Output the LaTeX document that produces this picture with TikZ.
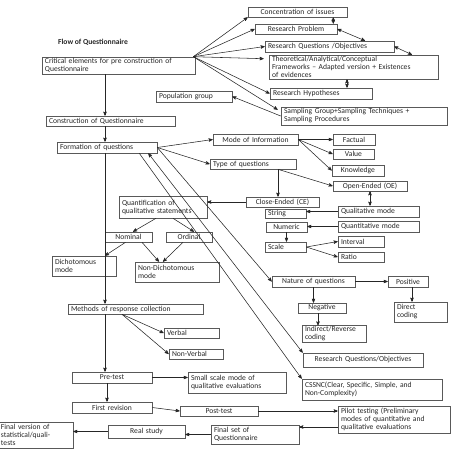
\documentclass[tikz,border=0pt]{standalone}
\usepackage{fontspec}
\setmainfont{Carlito}
\usetikzlibrary{arrows}

\tikzset{
  box/.style={draw=black!65,line width=0.6pt,inner xsep=3pt,inner ysep=1pt,
              align=left,text=black!85,font=\fontsize{7.6}{8}\selectfont},
  mid/.style={box,align=center},
  link/.style={->,draw=black!85,line width=0.55pt},
  both/.style={<->,draw=black!85,line width=0.55pt}
}

\begin{document}
\begin{tikzpicture}[x=1pt,y=-1pt,>=stealth']
  \useasboundingbox (0,0) rectangle (453,453);
  \coordinate (spine) at (105,0);

  \node[font=\fontsize{7.6}{8}\selectfont\bfseries,text=black!85] (title) at (93,42) {Flow of Questionnaire};

  % pre construction
  \node[box,text width=147pt,minimum height=17pt] (crit)   at (118.5,65.5) {Critical elements for pre construction of\\Questionnaire};
  \node[mid,text width=93pt,minimum height=10pt]  (conc)   at (297.5,12)   {Concentration  of  issues};
  \node[mid,text width=76pt,minimum height=10pt]  (rprob)  at (296,29)     {Research  Problem};
  \node[box,text width=123pt,minimum height=11pt] (rqo)    at (329.5,46.5) {Research  Questions /Objectives};
  \node[box,text width=163pt,minimum height=24pt] (theo)   at (353.5,67)   {Theoretical/Analytical/Conceptual\\Frameworks -- Adapted version + Existences\\of evidences};
  \node[box,text width=96pt,minimum height=11pt]  (hyp)    at (321,93.5)   {Research  Hypotheses};
  \node[box,text width=70pt,minimum height=11pt]  (pop)    at (194,96.5)   {Population  group};
  \node[box,text width=160pt,minimum height=18pt] (samp)   at (364,116)    {Sampling Group+Sampling Techniques +\\Sampling  Procedures};
  \node[box,text width=123pt,minimum height=10pt] (constr) at (110.5,121)   {Construction  of Questionnaire};

  % formation of questions
  \node[box,text width=94pt,minimum height=11pt]  (form)   at (107,147.5)  {Formation  of questions};
  \node[mid,text width=79pt,minimum height=11pt]  (mode)   at (255.5,139.5) {Mode of Information};
  \node[mid,text width=36pt,minimum height=11pt]  (fact)   at (354,139.5)  {Factual};
  \node[mid,text width=35pt,minimum height=10pt]  (val)    at (353.5,154)  {Value};
  \node[mid,text width=46pt,minimum height=11pt]  (know)   at (358,170.5)  {Knowledge};
  \node[box,text width=80pt,minimum height=10pt]  (typ)    at (253,164)    {Type of questions};
  \node[mid,text width=68pt,minimum height=10pt]  (oe)     at (370,186)    {Open-Ended (OE)};
  \node[mid,text width=67pt,minimum height=10pt]  (ce)     at (282.5,202)  {Close-Ended (CE)};
  \node[box,text width=82pt,minimum height=22pt]  (quant)  at (163,207)    {Quantification of\\qualitative statements};
  \node[box,text width=35pt,minimum height=9pt]   (str)    at (285.5,213.5) {String};
  \node[box,text width=75pt,minimum height=11pt]  (qual)   at (378.5,211.5) {Qualitative mode};
  \node[mid,text width=35pt,minimum height=10pt]  (num)    at (286.5,227)  {Numeric};
  \node[box,text width=75pt,minimum height=11pt]  (quan)   at (378.5,226.5) {Quantitative mode};
  \node[box,text width=35pt,minimum height=10pt]  (scale)  at (285.5,247)  {Scale};
  \node[box,text width=40pt,minimum height=11pt]  (intv)   at (361,241.5)  {Interval};
  \node[box,text width=40pt,minimum height=10pt]  (ratio)  at (361,257)    {Ratio};
  \node[mid,text width=41pt,minimum height=10pt]  (nom)    at (128.5,237)  {Nominal};
  \node[mid,text width=40pt,minimum height=10pt]  (ord)    at (189,237)    {Ordinal};
  \node[box,text width=58pt,minimum height=20pt]  (dich)   at (84,266)     {Dichotomous\\mode};
  \node[box,text width=78pt,minimum height=20pt]  (ndich)  at (177,272)    {Non-Dichotomous\\mode};
  \node[mid,text width=77pt,minimum height=11pt]  (nat)    at (313.5,281.5) {Nature of questions};
  \node[mid,text width=34pt,minimum height=11pt]  (pos)    at (408,281.5)  {Positive};
  \node[mid,text width=42pt,minimum height=10pt]  (neg)    at (322,308)    {Negative};
  \node[box,text width=47pt,minimum height=20pt]  (dcod)   at (420.5,312)  {Direct\\coding};
  \node[box,text width=58pt,minimum height=16pt]  (icod)   at (334,334)    {Indirect/Reverse\\coding};
  \node[mid,text width=114pt,minimum height=14pt] (rqo2)   at (363,360)    {Research Questions/Objectives};
  \node[box,text width=134pt,minimum height=21pt] (cssnc)  at (372,389.5)  {CSSNC(Clear, Specific, Simple, and\\Non-Complexity)};

  % response collection and testing
  \node[box,text width=129pt,minimum height=10pt] (meth)   at (135.5,309)  {Methods  of response collection};
  \node[box,text width=49pt,minimum height=10pt]  (verb)   at (191.5,333)  {Verbal};
  \node[box,text width=48pt,minimum height=10pt]  (nverb)  at (196,354)    {Non-Verbal};
  \node[mid,text width=74pt,minimum height=11pt]  (pre)    at (112,377.5)  {Pre-test};
  \node[box,text width=92pt,minimum height=21pt]  (small)  at (237,382.5)  {Small scale mode of\\qualitative evaluations};
  \node[mid,text width=74pt,minimum height=11pt]  (frev)   at (112,407.5)  {First revision};
  \node[mid,text width=72pt,minimum height=10pt]  (post)   at (219,411)    {Post-test};
  \node[box,text width=106pt,minimum height=27pt] (pilot)  at (394,419.5)  {Pilot testing (Preliminary\\modes of quantitative and\\qualitative evaluations};
  \node[box,text width=82pt,minimum height=19pt]  (fset)   at (255,434.5)  {Final set of\\Questionnaire};
  \node[mid,text width=71pt,minimum height=13pt]  (real)   at (146.5,431.5) {Real study};
  \node[box,text width=69pt,minimum height=26pt]  (fver)   at (35.5,435)   {Final version of\\statistical/quali-\\tests};

  % main spine
  \draw[link] (crit.south -| spine)   -- (constr.north -| spine);
  \draw[link] (constr.south -| spine) -- (form.north -| spine);
  \draw[link] (form.south -| spine)   -- (meth.north -| spine);
  \draw[link] (meth.south -| spine)   -- (pre.north -| spine);
  \draw[link] ([xshift=-5pt]pre.south) -- ([xshift=-5pt]frev.north);

  % fan from critical elements
  \draw[link] ([xshift=-2pt]crit.north east) -- (conc.south west);
  \draw[link] ([xshift=-2pt]crit.north east) -- (rprob.west);
  \draw[link] ([xshift=-2pt]crit.north east) -- (rqo.west);
  \draw[link] ([xshift=-2pt]crit.north east) -- ([xshift=-5pt,yshift=-4pt]theo.north west);
  \draw[link] ([xshift=-2pt]crit.north east) -- (hyp.west);
  \draw[link] ([xshift=-2pt]crit.north east) -- ([xshift=-3pt,yshift=-3pt]samp.north west);
  \draw[both] ([xshift=-14pt]conc.south east) -- ([xshift=-14pt]conc.south east |- rprob.north);
  \draw[both] (rprob.east) -- ([xshift=35.5pt]rqo.north);
  \draw[both] (rqo.east) -- ([xshift=58.5pt]theo.north);
  \draw[both] ([xshift=26pt]hyp.north) -- ([xshift=26pt]hyp.north |- theo.south);
  \draw[link] (samp.west) -- (pop.east);

  % formation of questions
  \draw[link] (form.east) -- (mode.west);
  \draw[link] (form.east) -- (typ.west);
  \draw[link] (mode.east) -- (fact.west);
  \draw[link] (mode.east) -- (val.west);
  \draw[link] (mode.east) -- (know.west);
  \draw[link] ([xshift=25pt]typ.south) -- (oe.west);
  \draw[link] ([xshift=25pt]typ.south) -- ([xshift=25pt]typ.south |- ce.north);
  \draw[link] (ce.west) -- (ce.west -| quant.east);
  \draw[both] (oe.south) -- (oe.south |- qual.north);
  \draw[link] (qual.west) -- (qual.west -| str.east);
  \draw[link] (quan.west) -- (quan.west -| num.east);
  \draw[link] (num.south) -- (num.south |- scale.north);
  \draw[link] (scale.east) -- (intv.west);
  \draw[link] (scale.east) -- (ratio.west);
  \draw[link] ([xshift=-7pt]quant.south) -- ([xshift=4.5pt]nom.north);
  \draw[link] ([xshift=10pt]quant.south) -- ([xshift=5pt]ord.north);
  \draw[link] ([xshift=-3pt]nom.south) -- (dich.north -| spine);
  \draw[link] ([xshift=13.5pt]nom.south) -- ([xshift=-18pt]ndich.north);
  \draw[link] ([xshift=-6pt]ord.south) -- ([xshift=-14pt]ndich.north);
  \draw[link] (form.east) -- (nat.west);
  \draw[both] ([xshift=-9pt]form.south east) -- (rqo2.north west);
  \draw[link] ([xshift=-18pt]form.south east) -- (cssnc.north west);
  \draw[link] (nat.east) -- (pos.west);
  \draw[link] (nat.south) -- (nat.south |- neg.north);
  \draw[link] ([xshift=-4pt]neg.south) -- ([xshift=-4pt]neg.south |- icod.north);
  \draw[link] ([xshift=4pt]pos.south) -- ([xshift=4pt]pos.south |- dcod.north);

  % responses and testing
  \draw[link] ([xshift=-13.5pt]meth.south) -- (verb.west);
  \draw[link] ([xshift=-13.5pt]meth.south) -- (nverb.west);
  \draw[link] (pre.east) -- (pre.east -| small.west);
  \draw[link] (frev.east) -- (post.west);
  \draw[link] (post.east) -- (post.east -| pilot.west);
  \draw[link] ([yshift=-7.5pt]pilot.west) -- ([yshift=-7.5pt]pilot.west -| fset.east);
  \draw[link] (fset.west) -- (fset.west -| real.east);
  \draw[link] (real.west) -- (real.west -| fver.east);
\end{tikzpicture}
\end{document}
